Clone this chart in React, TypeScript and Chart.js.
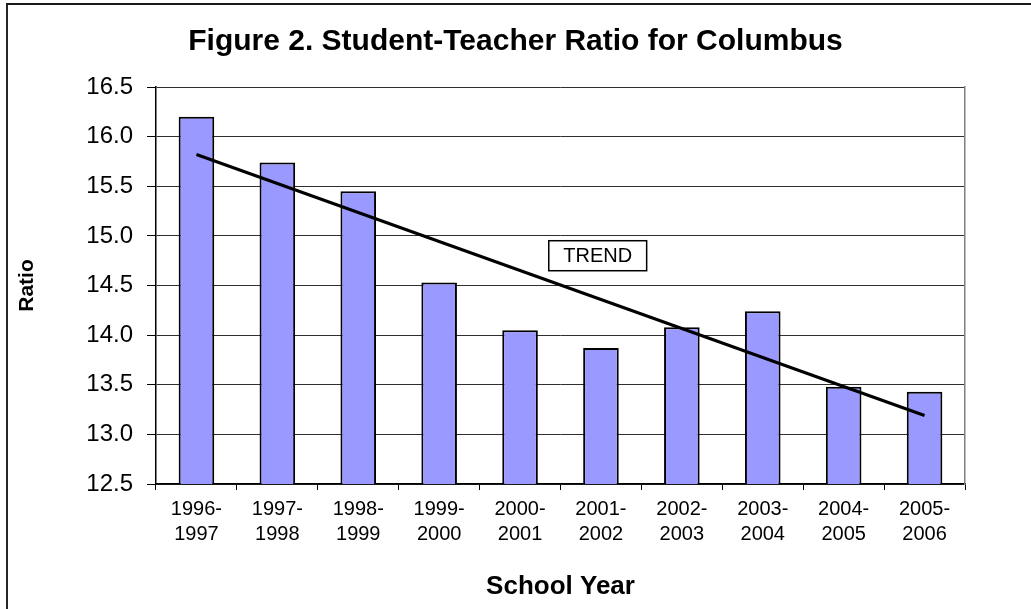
import React, { useEffect, useRef } from "react";
import { Chart, registerables } from "chart.js";

Chart.register(...registerables);

const TITLE = "Figure 2. Student-Teacher Ratio for Columbus";
const X_TITLE = "School Year";
const Y_TITLE = "Ratio";
const categories: string[][] = [
  ["1996-", "1997"],
  ["1997-", "1998"],
  ["1998-", "1999"],
  ["1999-", "2000"],
  ["2000-", "2001"],
  ["2001-", "2002"],
  ["2002-", "2003"],
  ["2003-", "2004"],
  ["2004-", "2005"],
  ["2005-", "2006"],
];
const ratios: number[] = [16.2, 15.74, 15.45, 14.53, 14.05, 13.87, 14.08, 14.24, 13.48, 13.43];
// trend line: only its two end values as drawn in the picture
const trendStart = 15.82;
const trendEnd = 13.19;
const trendData: (number | null)[] = [trendStart, null, null, null, null, null, null, null, null, trendEnd];
const TREND_LABEL = "TREND";
const trendLabelIndex = 4.96;
const trendLabelValue = 14.8;
const Y_MIN = 12.5;
const Y_MAX = 16.5;
const Y_STEP = 0.5;

const FONT = "'Liberation Sans', Arial, sans-serif";

const decorPlugin = {
  id: "decor",
  afterDatasetsDraw(chart: any) {
    const { ctx, scales } = chart;
    ctx.save();
    // TREND label box
    const cx = scales.x.getPixelForValue(trendLabelIndex);
    const cy = scales.y.getPixelForValue(trendLabelValue);
    ctx.font = `20px ${FONT}`;
    const tw = ctx.measureText(TREND_LABEL).width;
    const bw = tw + 29;
    const bh = 30;
    ctx.fillStyle = "#fff";
    ctx.fillRect(cx - bw / 2, cy - bh / 2, bw, bh);
    ctx.strokeStyle = "#000";
    ctx.lineWidth = 1.5;
    ctx.strokeRect(cx - bw / 2, cy - bh / 2, bw, bh);
    ctx.fillStyle = "#000";
    ctx.textAlign = "center";
    ctx.textBaseline = "middle";
    ctx.fillText(TREND_LABEL, cx, cy + 1);
    ctx.restore();
  },
};

export default function App() {
  const ref = useRef<HTMLCanvasElement>(null);
  useEffect(() => {
    if (!ref.current) return;
    const chart = new Chart(ref.current, {
      type: "bar",
      data: {
        labels: categories,
        datasets: [
          {
            type: "line",
            label: "Trend",
            data: trendData,
            spanGaps: true,
            borderColor: "#000",
            borderWidth: 3,
            pointRadius: 0,
            fill: false,
            order: 1,
          } as any,
          {
            type: "bar",
            label: "Ratio",
            data: ratios,
            backgroundColor: "#9999FF",
            borderColor: "#000",
            borderWidth: 2,
            categoryPercentage: 1,
            barPercentage: 0.44,
            order: 2,
          },
        ],
      },
      options: {
        responsive: false,
        animation: false,
        layout: { padding: { top: 0, left: 0, right: 0, bottom: 0 } },
        plugins: {
          legend: { display: false },
          tooltip: { enabled: false },
          title: {
            display: true,
            text: TITLE,
            color: "#000",
            font: { family: FONT, size: 30, weight: "bold", lineHeight: 1.2 },
            padding: { top: 24, bottom: 27 },
          },
        },
        scales: {
          x: {
            offset: true,
            afterFit(scale: any) {
              scale.height = 125;
            },
            grid: {
              display: true,
              drawOnChartArea: false,
              drawTicks: true,
              tickLength: 6,
              tickColor: "#000",
              offset: true,
            },
            border: { display: true, color: "#000", width: 1.5 },
            ticks: {
              color: "#000",
              font: { family: FONT, size: 20, lineHeight: 1.25 },
              padding: 7,
              maxRotation: 0,
              autoSkip: false,
            },
            title: {
              display: true,
              text: X_TITLE,
              color: "#000",
              font: { family: FONT, size: 26, weight: "bold", lineHeight: 1.2 },
              padding: { top: 0, bottom: 7 },
            },
          },
          y: {
            min: Y_MIN,
            max: Y_MAX,
            afterFit(scale: any) {
              scale.width = 156;
            },
            grid: {
              color: "#2e2e2e",
              lineWidth: 1,
              tickLength: 9,
              tickColor: "#000",
            },
            border: { display: true, color: "#000", width: 1.5 },
            ticks: {
              stepSize: Y_STEP,
              color: "#000",
              font: { family: FONT, size: 24 },
              padding: 14,
              callback: (v: any) => Number(v).toFixed(1),
            },
            title: {
              display: true,
              text: Y_TITLE,
              color: "#000",
              font: { family: FONT, size: 21, weight: "bold", lineHeight: 1.2 },
              padding: { top: 15, bottom: 0 },
            },
          },
          yRight: {
            type: "linear",
            position: "right",
            display: true,
            afterFit(scale: any) {
              scale.width = 66;
            },
            grid: { drawOnChartArea: false, drawTicks: false },
            ticks: { display: false },
            border: { display: true, color: "#808080", width: 1.5 },
          },
        },
      },
      plugins: [decorPlugin],
    });
    return () => chart.destroy();
  }, []);

  return (
    <div style={{ position: "absolute", left: 0, top: 0, width: 1031, height: 609, background: "#fff", overflow: "hidden" }}>
      <div
        style={{
          position: "absolute",
          left: 6,
          top: 3,
          right: -10,
          bottom: -10,
          borderLeft: "2px solid #262626",
          borderTop: "2px solid #1a1a1a",
        }}
      />
      <canvas ref={ref} width={1031} height={609} style={{ position: "absolute", left: 0, top: 0 }} />
    </div>
  );
}
